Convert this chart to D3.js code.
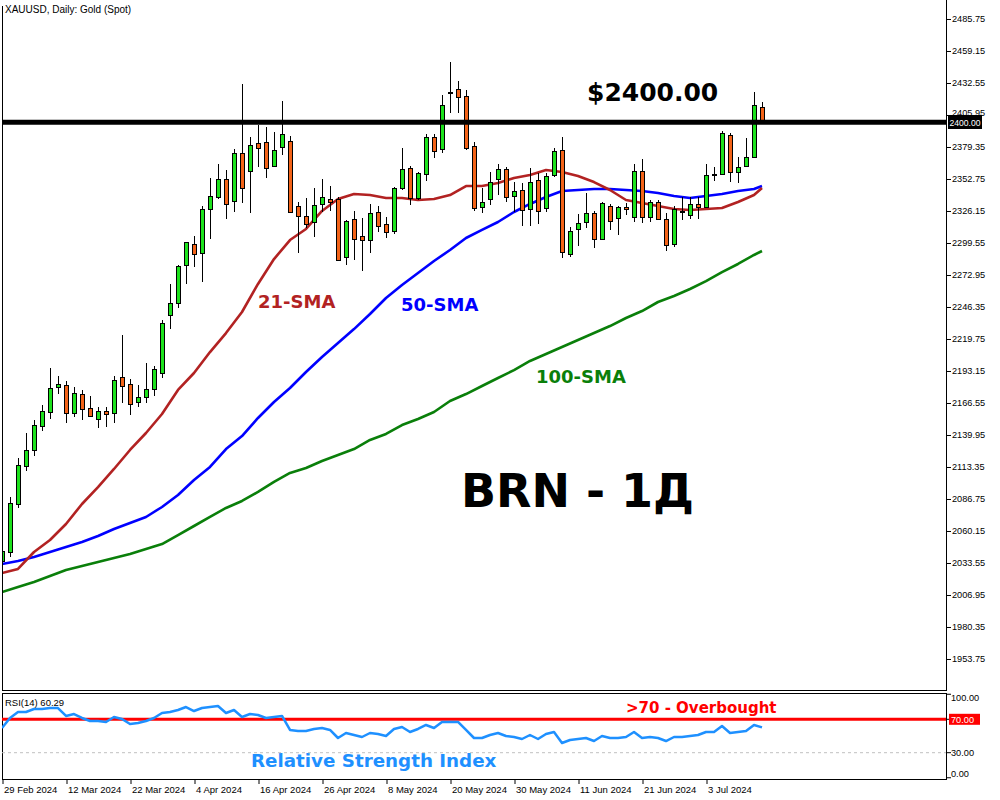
<!DOCTYPE html>
<html><head><meta charset="utf-8">
<script src="https://cdn.jsdelivr.net/npm/d3@7"></script>
<style>body{margin:0;background:#fff}svg{display:block}</style>
</head><body><svg id="c" width="1000" height="800"></svg>
<script>
// ---------- DATA ----------
const candleOpen = [2035.2,2042.7,2082.6,2114.2,2127.5,2147.4,2159.1,2179.8,2181.5,2158.2,
 2174.0,2162.4,2153.2,2159.9,2158.2,2188.1,2182.3,2167.4,2171.6,2178.2,
 2191.5,2239.7,2249.7,2281.3,2298.7,2291.2,2327.8,2337.8,2352.7,2334.5,
 2374.4,2359.4,2382.7,2383.5,2363.6,2379.4,2384.3,2330.3,2322.0,2317.0,
 2332.0,2336.1,2336.1,2287.9,2319.5,2305.4,2302.0,2325.3,2315.3,2309.5,
 2345.3,2361.9,2336.9,2356.9,2387.7,2377.7,2424.6,2427.5,2421.7,2380.2,
 2329.5,2336.1,2352.7,2361.1,2338.6,2343.6,2327.8,2351.9,2328.6,2356.1,
 2376.9,2290.4,2311.2,2317.0,2324.5,2302.9,2330.3,2320.3,2329.5,2321.2,
 2359.4,2321.2,2333.6,2319.5,2298.7,2326.2,2322.8,2332.0,2329.5,2356.5,
 2356.9,2389.3,2358.6,2363.6,2371.0,2412.6];
const candleHigh = [2045.2,2088.4,2120.8,2141.6,2152.4,2164.9,2195.6,2189.0,2184.8,2179.8,
 2177.4,2172.4,2163.2,2163.2,2189.0,2223.1,2186.5,2181.5,2199.8,2197.3,
 2235.5,2265.5,2281.3,2300.4,2305.4,2330.3,2353.6,2365.2,2360.2,2377.7,
 2431.7,2387.7,2397.6,2396.0,2391.8,2417.6,2388.5,2333.6,2336.9,2345.3,
 2352.7,2346.9,2337.8,2318.7,2326.2,2320.3,2332.0,2330.3,2321.2,2346.1,
 2378.5,2363.6,2358.6,2390.2,2390.2,2422.6,2450.0,2434.2,2426.7,2383.5,
 2345.3,2358.6,2365.2,2362.7,2350.2,2349.4,2361.9,2357.7,2357.7,2378.5,
 2387.7,2312.8,2323.7,2341.1,2326.2,2333.6,2332.0,2330.3,2332.8,2365.2,
 2369.4,2335.3,2335.3,2324.5,2330.3,2337.8,2337.8,2337.8,2365.2,2362.7,
 2392.6,2391.0,2371.0,2386.8,2425.1,2416.8];
const candleLow = [2033.5,2038.5,2079.3,2110.0,2122.5,2143.3,2153.2,2174.0,2149.9,2154.9,
 2152.4,2154.9,2145.8,2146.6,2149.9,2166.6,2156.6,2163.2,2166.6,2172.4,
 2187.3,2228.0,2245.5,2265.5,2279.6,2267.1,2302.9,2336.1,2319.5,2325.3,
 2332.8,2324.5,2362.7,2353.6,2362.7,2372.7,2324.5,2291.2,2312.0,2304.5,
 2325.3,2326.2,2284.6,2281.3,2285.4,2276.3,2291.2,2308.7,2303.7,2307.0,
 2343.6,2331.1,2335.3,2351.1,2370.2,2374.4,2407.6,2407.6,2376.9,2326.2,
 2324.5,2331.1,2339.4,2333.6,2325.3,2313.7,2313.7,2315.3,2325.3,2354.4,
 2287.1,2287.9,2297.1,2312.0,2295.4,2302.0,2310.4,2306.2,2322.8,2317.0,
 2316.2,2317.0,2318.7,2292.9,2296.2,2318.7,2319.5,2319.5,2328.6,2351.1,
 2356.9,2350.2,2349.4,2362.7,2370.2,2400.0];
const candleClose = [2043.5,2083.4,2115.0,2127.5,2148.2,2159.9,2179.0,2182.3,2158.2,2174.9,
 2161.6,2155.8,2159.9,2157.4,2185.6,2180.7,2165.7,2171.6,2178.2,2194.8,
 2233.0,2249.7,2280.4,2300.4,2290.4,2327.8,2338.6,2352.7,2332.0,2374.4,
 2345.3,2381.0,2378.5,2361.9,2376.9,2390.2,2325.3,2322.0,2315.3,2331.1,
 2337.8,2333.6,2285.4,2317.8,2302.9,2302.0,2324.5,2313.7,2308.7,2345.3,
 2361.1,2336.9,2357.7,2387.7,2376.0,2414.3,2425.1,2420.9,2378.5,2328.6,
 2333.6,2350.2,2361.1,2337.8,2342.8,2327.0,2350.2,2326.2,2355.2,2376.0,
 2292.1,2309.5,2316.2,2324.5,2302.9,2332.8,2317.8,2329.5,2327.8,2359.4,
 2321.2,2333.6,2319.5,2297.9,2327.8,2325.3,2332.0,2329.5,2356.1,2356.9,
 2391.0,2358.6,2362.7,2371.0,2414.3,2401.0];

// bar indices where the moving averages were read
const smaIdx = [0,2,4,6,8,10,12,14,16,18,20,22,24,26,28,30,32,34,36,38,40,42,44,46,48,
 50,52,54,56,58,60,62,64,66,68,70,72,74,76,78,80,82,84,86,88,90,92,94,95];
const sma21 = [2025.2,2028.6,2042.7,2052.7,2066.0,2082.6,2096.7,2111.7,2127.5,2141.6,
 2157.4,2177.4,2191.5,2208.9,2224.7,2242.2,2265.5,2286.2,2302.0,2311.2,
 2326.2,2336.1,2340.3,2339.4,2336.9,2336.9,2335.3,2336.1,2339.4,2346.9,
 2346.9,2349.4,2353.6,2356.1,2360.2,2358.6,2355.2,2350.2,2343.6,2335.3,
 2332.8,2330.3,2327.8,2327.0,2327.8,2328.6,2333.6,2339.4,2345.3];
const sma50 = [2032.7,2035.2,2038.5,2042.7,2046.8,2051.0,2056.0,2061.8,2066.8,2071.8,
 2080.1,2090.1,2102.5,2113.4,2128.3,2139.1,2154.1,2167.4,2179.0,2192.3,
 2204.8,2216.4,2228.0,2240.5,2253.8,2264.6,2274.6,2284.6,2293.7,2303.7,
 2310.4,2317.0,2325.3,2332.0,2337.8,2342.8,2343.6,2344.4,2344.4,2343.6,
 2342.8,2341.1,2338.6,2336.9,2338.6,2340.3,2342.8,2344.4,2346.9];
const sma100 = [2009.4,2013.6,2017.8,2022.7,2027.7,2031.0,2034.4,2037.7,2041.0,2045.2,
 2049.3,2056.8,2064.3,2071.8,2079.3,2085.1,2092.6,2100.9,2108.4,2112.5,
 2118.3,2123.3,2128.3,2135.8,2140.8,2148.2,2153.2,2159.1,2168.2,2174.0,
 2180.7,2187.3,2193.9,2201.5,2207.3,2213.1,2218.9,2224.7,2230.5,2237.2,
 2243.0,2250.5,2255.5,2261.3,2267.9,2275.4,2282.1,2289.6,2292.9];

const rsi14 = [59.6,71.6,78.7,78.7,82.3,82.3,83.5,83.5,74.0,76.3,
 71.6,68.0,68.0,66.8,72.8,70.4,64.4,65.6,68.0,71.6,
 77.5,78.7,81.1,84.7,79.9,83.5,84.7,85.9,77.5,81.1,
 72.8,76.3,75.1,71.6,72.8,74.0,57.2,56.0,56.0,58.4,
 59.6,57.2,47.6,53.6,51.2,48.8,53.6,52.4,50.0,58.4,
 60.8,54.8,58.4,63.2,59.6,66.8,66.8,66.8,57.2,47.6,
 47.6,51.2,53.6,50.0,48.8,46.4,51.2,46.4,52.4,54.8,
 41.6,45.2,46.4,47.6,44.0,50.0,47.6,47.6,48.8,54.8,
 47.6,48.8,47.6,44.0,48.8,48.8,50.0,51.2,54.8,54.8,
 62.0,53.6,54.8,56.0,63.2,60.29];

const priceTicks = [2485.75,2459.15,2432.55,2405.95,2379.35,2352.75,2326.15,2299.55,2272.95,
 2246.35,2219.75,2193.15,2166.55,2139.95,2113.35,2086.75,2060.15,2033.55,2006.95,1980.35,1953.75];
const dateTickIdx = [0,8,16,24,32,40,48,56,64,72,80,88];
const dateTickLabels = ["29 Feb 2024","12 Mar 2024","22 Mar 2024","4 Apr 2024","16 Apr 2024",
 "26 Apr 2024","8 May 2024","20 May 2024","30 May 2024","11 Jun 2024","21 Jun 2024","3 Jul 2024"];
const rsiTicks = [100,70,30,0];
const levelPrice = 2400.00;
const rsiLevel = 70, rsiLow = 30;

// ---------- DRAW ----------
const svg = d3.select('#c');
const L = 2, R = 946, T = 2, B = 690, RT = 693, RB = 779;
const x = d3.scaleLinear().domain([0,118]).range([2,946]);
const y = d3.scaleLinear().domain([1927.98,2499.88]).range([B,T]);
const yr = d3.scaleLinear().domain([0,100]).range([777.75,694.25]);
const axisFont = "Liberation Sans, Arial, sans-serif";
const boldFont = "DejaVu Sans, Verdana, sans-serif";

svg.append('rect').attr('width',1000).attr('height',800).attr('fill','#fff');

const defs = svg.append('defs');
defs.append('clipPath').attr('id','mainClip').append('rect')
  .attr('x',L).attr('y',T).attr('width',R-L).attr('height',B-T);
defs.append('clipPath').attr('id','rsiClip').append('rect')
  .attr('x',L).attr('y',RT).attr('width',R-L).attr('height',RB-RT);

const main = svg.append('g').attr('clip-path','url(#mainClip)');

// moving averages
const smaLine = arr => d3.line().x((d,i)=>x(smaIdx[i])).y(d=>y(d))(arr);
[[sma100,'#0a7f0a'],[sma50,'#0000ff'],[sma21,'#b22222']].forEach(([arr,col])=>{
  main.append('path').attr('d',smaLine(arr)).attr('fill','none')
    .attr('stroke',col).attr('stroke-width',2.6).attr('stroke-linejoin','round');
});

// candles
const idx = d3.range(candleOpen.length);
const cg = main.append('g');
idx.forEach(i=>{
  const cx = Math.round(x(i));
  const o = candleOpen[i], c = candleClose[i];
  const bull = c >= o;
  cg.append('line').attr('x1',cx+0.5).attr('x2',cx+0.5)
    .attr('y1',Math.round(y(candleHigh[i]))).attr('y2',Math.round(y(candleLow[i])))
    .attr('stroke','#000').attr('stroke-width',1);
  const yt = Math.round(y(Math.max(o,c))), yb = Math.round(y(Math.min(o,c)));
  cg.append('rect').attr('x',cx-1.5).attr('y',yt+0.5)
    .attr('width',4).attr('height',Math.max(1,yb-yt))
    .attr('fill', bull ? '#1de21d' : '#f36318')
    .attr('stroke','#000').attr('stroke-width',1);
});

// 2400 level
main.append('line').attr('x1',L).attr('x2',R)
  .attr('y1',y(levelPrice)).attr('y2',y(levelPrice))
  .attr('stroke','#000').attr('stroke-width',5);

// annotations
const ann = (t,xx,yy,size,col)=>svg.append('text').attr('x',xx).attr('y',yy).text(t)
  .attr('font-family',boldFont).attr('font-weight','bold').attr('font-size',size).attr('fill',col);
ann('$2400.00',587,101,25,'#000');
ann('21-SMA',258,308,18,'#b22222');
ann('50-SMA',401,311,18,'#0000ff');
ann('100-SMA',536,383,18,'#0a7f0a');
ann('BRN - 1Д',461,507,46,'#000');
ann('>70 - Overbought',626,713,15,'#ff0000');
ann('Relative Strength Index',251,767,18.3,'#1e90ff');

svg.append('text').attr('x',5).attr('y',13).text('XAUUSD, Daily:  Gold (Spot)')
  .attr('font-family',axisFont).attr('font-size',10).attr('fill','#000');

// frames
const fr = svg.append('g').attr('stroke','#000').attr('stroke-width',1).attr('fill','none');
fr.append('line').attr('x1',L+0.5).attr('x2',L+0.5).attr('y1',6).attr('y2',B+1);
fr.append('line').attr('x1',R+0.5).attr('x2',R+0.5).attr('y1',0).attr('y2',B+1);
fr.append('line').attr('x1',L).attr('x2',R+1).attr('y1',B+0.5).attr('y2',B+0.5);
fr.append('rect').attr('x',L+0.5).attr('y',RT+0.5).attr('width',R-L).attr('height',RB-RT);

// price axis (the 2405.95 label sits partly behind the level box, as in the reference)
const pa = svg.append('g').attr('transform',`translate(${R+1},0)`)
  .call(d3.axisRight(y).tickValues(priceTicks).tickSize(4).tickPadding(1).tickFormat(d3.format('.2f')));
pa.select('.domain').remove();
pa.selectAll('text').attr('font-family',axisFont).attr('font-size',9.2).attr('fill','#000')
  .filter(d=>Math.abs(d-levelPrice)<10).attr('dy','0.1em');
pa.selectAll('line').attr('stroke','#000');

// 2400 label box
const ly = Math.round(y(levelPrice));
svg.append('rect').attr('x',948).attr('y',ly-7).attr('width',34).attr('height',14).attr('fill','#000');
svg.append('text').attr('x',949.5).attr('y',ly+3.5).text(d3.format('.2f')(levelPrice))
  .attr('font-family',axisFont).attr('font-size',8.6).attr('fill','#fff');

// RSI panel
const rg = svg.append('g').attr('clip-path','url(#rsiClip)');
rg.append('line').attr('x1',L).attr('x2',R).attr('y1',yr(rsiLow)).attr('y2',yr(rsiLow))
  .attr('stroke','#c0c0c0').attr('stroke-dasharray','3,3').attr('stroke-width',1);
rg.append('line').attr('x1',L).attr('x2',R).attr('y1',yr(rsiLevel)).attr('y2',yr(rsiLevel))
  .attr('stroke','#ff0000').attr('stroke-width',3);
rg.append('path').attr('d',d3.line().x((d,i)=>x(i)).y(d=>yr(d))(rsi14))
  .attr('fill','none').attr('stroke','#1e90ff').attr('stroke-width',2.5).attr('stroke-linejoin','round');

svg.append('text').attr('x',5).attr('y',706).text('RSI(14) ' + d3.format('.2f')(rsi14[rsi14.length-1]))
  .attr('font-family',axisFont).attr('font-size',9.5).attr('fill','#000');

// RSI axis
const ra = svg.append('g');
rsiTicks.forEach(v=>{
  const ty = yr(v);
  ra.append('line').attr('x1',R+1).attr('x2',R+5).attr('y1',ty).attr('y2',ty).attr('stroke','#000');
});
rsiTicks.filter(v=>v!==rsiLevel).forEach(v=>{
  const ty = Math.max(698, Math.min(773.5, yr(v)));
  ra.append('text').attr('x',951).attr('y',ty+3.3).text(d3.format('.2f')(v))
    .attr('font-family',axisFont).attr('font-size',9.2).attr('fill','#000');
});
ra.append('rect').attr('x',949).attr('y',yr(rsiLevel)-5.5).attr('width',31).attr('height',11).attr('fill','#ff0000');
ra.append('text').attr('x',951).attr('y',yr(rsiLevel)+3.3).text(d3.format('.2f')(rsiLevel))
  .attr('font-family',axisFont).attr('font-size',9.2).attr('fill','#fff');

// date axis
const da = svg.append('g').attr('transform',`translate(0.5,${RB+1})`)
  .call(d3.axisBottom(x).tickValues(dateTickIdx).tickSize(4)
    .tickFormat((d,i)=>dateTickLabels[i]));
da.select('.domain').remove();
da.selectAll('line').attr('stroke','#000');
da.selectAll('text').attr('text-anchor','start').attr('x',1).attr('dy',0).attr('y',12.5)
  .attr('font-family',axisFont).attr('font-size',9.5).attr('fill','#000');
</script>
</body></html>
